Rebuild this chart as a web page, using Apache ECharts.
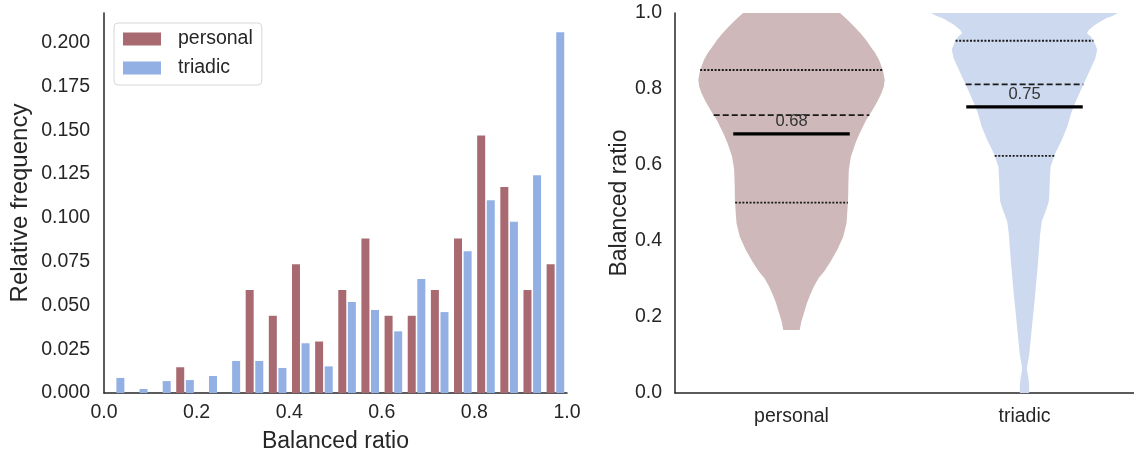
<!DOCTYPE html>
<html><head><meta charset="utf-8">
<script src="https://cdn.jsdelivr.net/npm/echarts@6/dist/echarts.min.js"></script>
<style>html,body{margin:0;padding:0;background:#fff}#c{width:1134px;height:452px}</style>
</head><body><div id="c"></div>
<script>
// ---- Histogram data (bins of width 0.05) ----
const binCenters = [0.025,0.075,0.125,0.175,0.225,0.275,0.325,0.375,0.425,0.475,0.525,0.575,0.625,0.675,0.725,0.775,0.825,0.875,0.925,0.975];
const personalFreq = [0,0,0,0.0147,0,0,0.0588,0.0441,0.0735,0.0294,0.0588,0.0882,0.0441,0.0441,0.0588,0.0882,0.1471,0.1176,0.0588,0.0735];
const triadicFreq = [0.0086,0.0023,0.0068,0.0074,0.0097,0.0183,0.0183,0.0143,0.0284,0.0152,0.0519,0.0474,0.0352,0.0651,0.0462,0.0809,0.1100,0.0978,0.1244,0.2060];
const seriesNames = ['personal','triadic'];

// ---- Violin data ----
const violinCategories = ['personal','triadic'];
// [balanced ratio, relative density (max = 1)]
const personalProfile = [[1.0,0.52],[0.982,0.60],[0.965,0.67],[0.947,0.74],[0.929,0.80],[0.911,0.85],[0.894,0.90],[0.876,0.94],[0.85,0.98],[0.824,1.0],[0.806,0.99],[0.789,0.965],[0.771,0.93],[0.753,0.89],[0.735,0.845],[0.718,0.80],[0.70,0.765],[0.683,0.73],[0.657,0.686],[0.622,0.637],[0.587,0.615],[0.55,0.61],[0.517,0.608],[0.48,0.60],[0.447,0.59],[0.411,0.555],[0.376,0.49],[0.346,0.42],[0.32,0.35],[0.302,0.29],[0.28,0.24],[0.258,0.20],[0.236,0.165],[0.214,0.138],[0.188,0.106],[0.166,0.088]];
const triadicProfile = [[1.0,1.0],[0.993,0.95],[0.986,0.876],[0.977,0.81],[0.968,0.75],[0.955,0.69],[0.947,0.67],[0.938,0.71],[0.929,0.735],[0.92,0.755],[0.903,0.78],[0.881,0.76],[0.859,0.72],[0.832,0.67],[0.806,0.62],[0.771,0.557],[0.736,0.50],[0.701,0.46],[0.666,0.40],[0.631,0.33],[0.596,0.28],[0.552,0.27],[0.521,0.266],[0.503,0.26],[0.486,0.238],[0.468,0.21],[0.451,0.185],[0.416,0.167],[0.346,0.146],[0.258,0.114],[0.17,0.078],[0.1,0.05],[0.08,0.035],[0.065,0.025],[0.05,0.033],[0.039,0.043],[0.02,0.05],[0.0,0.05]];
const personalQuartiles = [0.501,0.731,0.850];
const triadicQuartiles = [0.624,0.812,0.927];
const violinMeans = [0.682,0.753];
const meanLabels = ['0.68','0.75'];

const FONT = 'Liberation Sans, Arial, sans-serif';
const AXC = '#262626';
const barColors = ['#A86A70','#92B0E4'];
const violinColors = ['#CFB8BA','#CCD9EE'];
const profiles = [personalProfile, triadicProfile];
const quartiles = [personalQuartiles, triadicQuartiles];

function densityAt(profile, v){
  for (let i=0;i<profile.length-1;i++){
    const a=profile[i], b=profile[i+1];
    if ((v<=a[0] && v>=b[0])){
      const t=(a[0]-v)/(a[0]-b[0]);
      return a[1]+(b[1]-a[1])*t;
    }
  }
  return 0;
}
const HALF = 0.4;

const chart = echarts.init(document.getElementById('c'), null, {renderer:'canvas'});

const quartileData = [];
quartiles.forEach((q,i)=>{ q.forEach((v,k)=>{ quartileData.push([i, v, k===1 ? 1 : 0]); }); });

const option = {
  animation:false,
  textStyle:{fontFamily:FONT},
  grid:[
    {left:104, width:463, top:13, bottom:59, containLabel:false, outerBoundsMode:'none'},
    {left:675, width:466, top:13, bottom:59, containLabel:false, outerBoundsMode:'none'}
  ],
  legend:{
    data:seriesNames, orient:'vertical', left:114, top:23,
    padding:[6,9,7,9], itemWidth:38, itemHeight:13, itemGap:9, icon:'rect',
    borderColor:'#d6d6d6', borderWidth:1, borderRadius:4, backgroundColor:'#fff',
    textStyle:{fontSize:19.5, color:AXC, fontFamily:FONT, padding:[0,0,0,12]}
  },
  xAxis:[
    {type:'value', gridIndex:0, min:0, max:1, interval:0.2,
     name:'Balanced ratio', nameLocation:'middle', nameGap:37,
     nameTextStyle:{fontSize:23, color:AXC, fontFamily:FONT},
     axisLine:{show:true, onZero:false, lineStyle:{color:AXC, width:1.5}}, axisTick:{show:false},
     splitLine:{show:false},
     axisLabel:{fontSize:19.5, color:AXC, margin:10, formatter:v=>v.toFixed(1)}},
    {type:'category', gridIndex:1, data:violinCategories, boundaryGap:true,
     axisLine:{show:true, onZero:false, lineStyle:{color:AXC, width:1.5}}, axisTick:{show:false},
     axisLabel:{fontSize:19.5, color:AXC, margin:14}},
    {type:'value', gridIndex:1, min:-0.5, max:1.5, show:false}
  ],
  yAxis:[
    {type:'value', gridIndex:0, min:0, max:0.217, interval:0.025,
     name:'Relative frequency', nameLocation:'middle', nameGap:72, nameRotate:90,
     nameTextStyle:{fontSize:24, color:AXC, fontFamily:FONT},
     axisLine:{show:true, onZero:false, lineStyle:{color:AXC, width:1.5}}, axisTick:{show:false},
     splitLine:{show:false},
     axisLabel:{fontSize:19.5, color:AXC, margin:14, showMaxLabel:false, formatter:v=>v.toFixed(3)}},
    {type:'value', gridIndex:1, min:0, max:1, interval:0.2,
     name:'Balanced ratio', nameLocation:'middle', nameGap:41, nameRotate:90,
     nameTextStyle:{fontSize:23, color:AXC, fontFamily:FONT},
     axisLine:{show:true, onZero:false, lineStyle:{color:AXC, width:1.5}}, axisTick:{show:false},
     splitLine:{show:false},
     axisLabel:{fontSize:19.5, color:AXC, margin:13, formatter:v=>v.toFixed(1)}}
  ],
  series:[
    {name:seriesNames[0], type:'bar', xAxisIndex:0, yAxisIndex:0, barWidth:8, barGap:'20%',
     itemStyle:{color:barColors[0]}, data:binCenters.map((x,i)=>[x, personalFreq[i]])},
    {name:seriesNames[1], type:'bar', xAxisIndex:0, yAxisIndex:0, barWidth:8, barGap:'20%',
     itemStyle:{color:barColors[1]}, data:binCenters.map((x,i)=>[x, triadicFreq[i]])},
    {type:'custom', xAxisIndex:2, yAxisIndex:1, silent:true, z:2,
     data:violinCategories.map((c,i)=>[i]),
     renderItem:(params, api)=>{
       const idx = params.dataIndex, pos = api.value(0), prof = profiles[idx];
       const pts = [];
       prof.forEach(p=>pts.push(api.coord([pos - HALF*p[1], p[0]])));
       for (let k=prof.length-1;k>=0;k--) pts.push(api.coord([pos + HALF*prof[k][1], prof[k][0]]));
       return {type:'polygon', shape:{points:pts}, style:{fill:violinColors[idx]}};
     }},
    {type:'custom', xAxisIndex:2, yAxisIndex:1, silent:true, z:3,
     data:quartileData,
     renderItem:(params, api)=>{
       const pos=api.value(0), v=api.value(1), dashed=api.value(2)===1;
       const w = HALF*densityAt(profiles[pos], v);
       const p1=api.coord([pos-w, v]), p2=api.coord([pos+w, v]);
       return {type:'line', shape:{x1:p1[0],y1:p1[1],x2:p2[0],y2:p2[1]},
         style:{stroke:'#1a1a1a', lineWidth:1.8, lineDash: dashed ? [6,3] : [2,1.6]}};
     }},
    {type:'custom', xAxisIndex:2, yAxisIndex:1, silent:true, z:4,
     data:violinMeans.map((m,i)=>[i,m]),
     renderItem:(params, api)=>{
       const pos=api.value(0), m=api.value(1);
       const p1=api.coord([pos-0.25, m]), p2=api.coord([pos+0.25, m]);
       const c=api.coord([pos, m]);
       return {type:'group', children:[
         {type:'line', shape:{x1:p1[0],y1:p1[1],x2:p2[0],y2:p2[1]}, style:{stroke:'#000', lineWidth:3.2}},
         {type:'text', x:c[0], y:c[1]-12, style:{text:meanLabels[params.dataIndex], fontSize:16.5, fontFamily:FONT,
           fill:'#333', align:'center', verticalAlign:'middle'}}
       ]};
     }}
  ]
};
chart.setOption(option);
</script>
</body></html>
